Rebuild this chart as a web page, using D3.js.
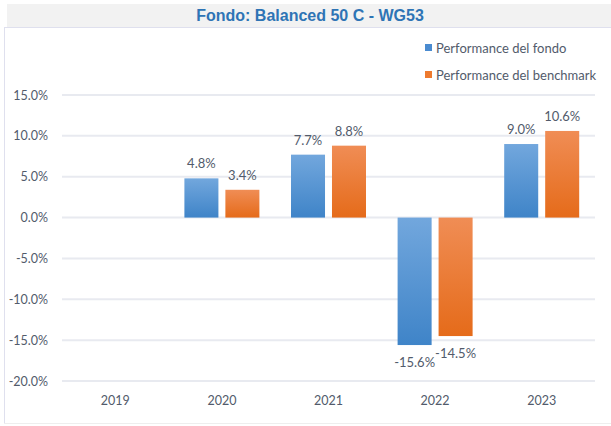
<!DOCTYPE html>
<html>
<head>
<meta charset="utf-8">
<script src="https://cdn.jsdelivr.net/npm/d3@7"></script>
<style>
  body { margin: 0; background: #fff; }
  svg text { font-family: Lato, "Open Sans", sans-serif; }
</style>
</head>
<body>
<div id="chart"></div>
<script>
// chart data
const years = ["2019", "2020", "2021", "2022", "2023"];
const seriesNames = ["Performance del fondo", "Performance del benchmark"];
const fondo = [null, 4.8, 7.7, -15.6, 9.0];
const benchmark = [null, 3.4, 8.8, -14.5, 10.6];
const yTicks = [15, 10, 5, 0, -5, -10, -15, -20];

const W = 611, H = 426;
const svg = d3.select("#chart").append("svg")
    .attr("width", W)
    .attr("height", H);

// percent with a plain hyphen, like the original
const pct = v => v.toFixed(1) + "%";

// gradients for the bars
const defs = svg.append("defs");
const grads = [
    {id: "gBlue", top: "#72a7dd", bottom: "#3f84c8"},
    {id: "gOrange", top: "#f08d55", bottom: "#e56b1a"}
];
grads.forEach(g => {
    let lg = defs.append("linearGradient").attr("id", g.id)
        .attr("x1", 0).attr("y1", 0).attr("x2", 0).attr("y2", 1);
    lg.append("stop").attr("offset", "0%").attr("stop-color", g.top);
    lg.append("stop").attr("offset", "100%").attr("stop-color", g.bottom);
});

// frame + title band
svg.append("rect").attr("x", 7).attr("y", 4).attr("width", W - 7).attr("height", 23).attr("fill", "#f2f2f2");
svg.append("line").attr("x1", 4).attr("x2", W).attr("y1", 27.5).attr("y2", 27.5).attr("stroke", "#dfe0ee");
svg.append("line").attr("x1", 4.5).attr("x2", 4.5).attr("y1", 27).attr("y2", 423).attr("stroke", "#dfe0ee");
svg.append("line").attr("x1", 4).attr("x2", W).attr("y1", 423.5).attr("y2", 423.5).attr("stroke", "#eeeeee");

svg.append("text")
    .attr("x", 310).attr("y", 21)
    .attr("text-anchor", "middle")
    .style("font-family", "'Liberation Sans', Arial, sans-serif")
    .style("font-weight", "bold")
    .style("font-size", "16px")
    .attr("fill", "#2e74b5")
    .text("Fondo: Balanced 50 C - WG53");

// scales
const x = d3.scaleBand().domain(years).range([62, 595]);
const y = d3.scaleLinear().domain([-20, 15]).range([381, 95]);
const outerPad = (x.bandwidth() - 75) / 2;
const inner = d3.scaleBand().domain(seriesNames)
    .range([outerPad, x.bandwidth() - outerPad]).paddingInner(0.17);

// grid
svg.append("g").selectAll("line").data(yTicks).enter().append("line")
    .attr("x1", 62).attr("x2", 595)
    .attr("y1", d => y(d)).attr("y2", d => y(d))
    .attr("stroke", "#e8eaf0").attr("stroke-width", 2);

// y labels
svg.append("g").selectAll("text").data(yTicks).enter().append("text")
    .attr("x", 48).attr("y", d => y(d) + 4.5)
    .attr("text-anchor", "end")
    .style("font-size", "12.5px")
    .attr("fill", "#525b6b")
    .text(d => pct(d));

// x labels
svg.append("g").selectAll("text").data(years).enter().append("text")
    .attr("x", d => x(d) + x.bandwidth() / 2).attr("y", 405)
    .attr("text-anchor", "middle")
    .style("font-size", "12.5px")
    .attr("fill", "#525b6b")
    .text(d => d);

// bars
const series = [
    {name: seriesNames[0], values: fondo, fill: "url(#gBlue)"},
    {name: seriesNames[1], values: benchmark, fill: "url(#gOrange)"}
];
series.forEach(s => {
    let rows = years.map((yr, i) => ({year: yr, v: s.values[i]})).filter(d => d.v !== null);
    let g = svg.append("g");
    g.selectAll("rect").data(rows).enter().append("rect")
        .attr("x", d => x(d.year) + inner(s.name))
        .attr("width", inner.bandwidth())
        .attr("y", d => y(Math.max(0, d.v)))
        .attr("height", d => Math.abs(y(d.v) - y(0)))
        .attr("fill", s.fill);
    g.selectAll("text").data(rows).enter().append("text")
        .attr("x", d => x(d.year) + inner(s.name) + inner.bandwidth() / 2)
        .attr("y", d => d.v >= 0 ? y(d.v) - 10 : y(d.v) + 22)
        .attr("text-anchor", "middle")
        .style("font-size", "13px")
        .attr("fill", "#525b6b")
        .text(d => pct(d.v));
});

// legend
const legend = svg.append("g").attr("transform", "translate(425, 0)");
series.forEach((s, i) => {
    legend.append("rect").attr("x", 0).attr("y", 44 + i * 27).attr("width", 7).attr("height", 7)
        .attr("fill", i === 0 ? "#4a8bd0" : "#ee7a2e");
    legend.append("text").attr("x", 11).attr("y", 53 + i * 27)
        .style("font-size", "13px")
        .attr("fill", "#525b6b")
        .text(s.name);
});
</script>
</body>
</html>
